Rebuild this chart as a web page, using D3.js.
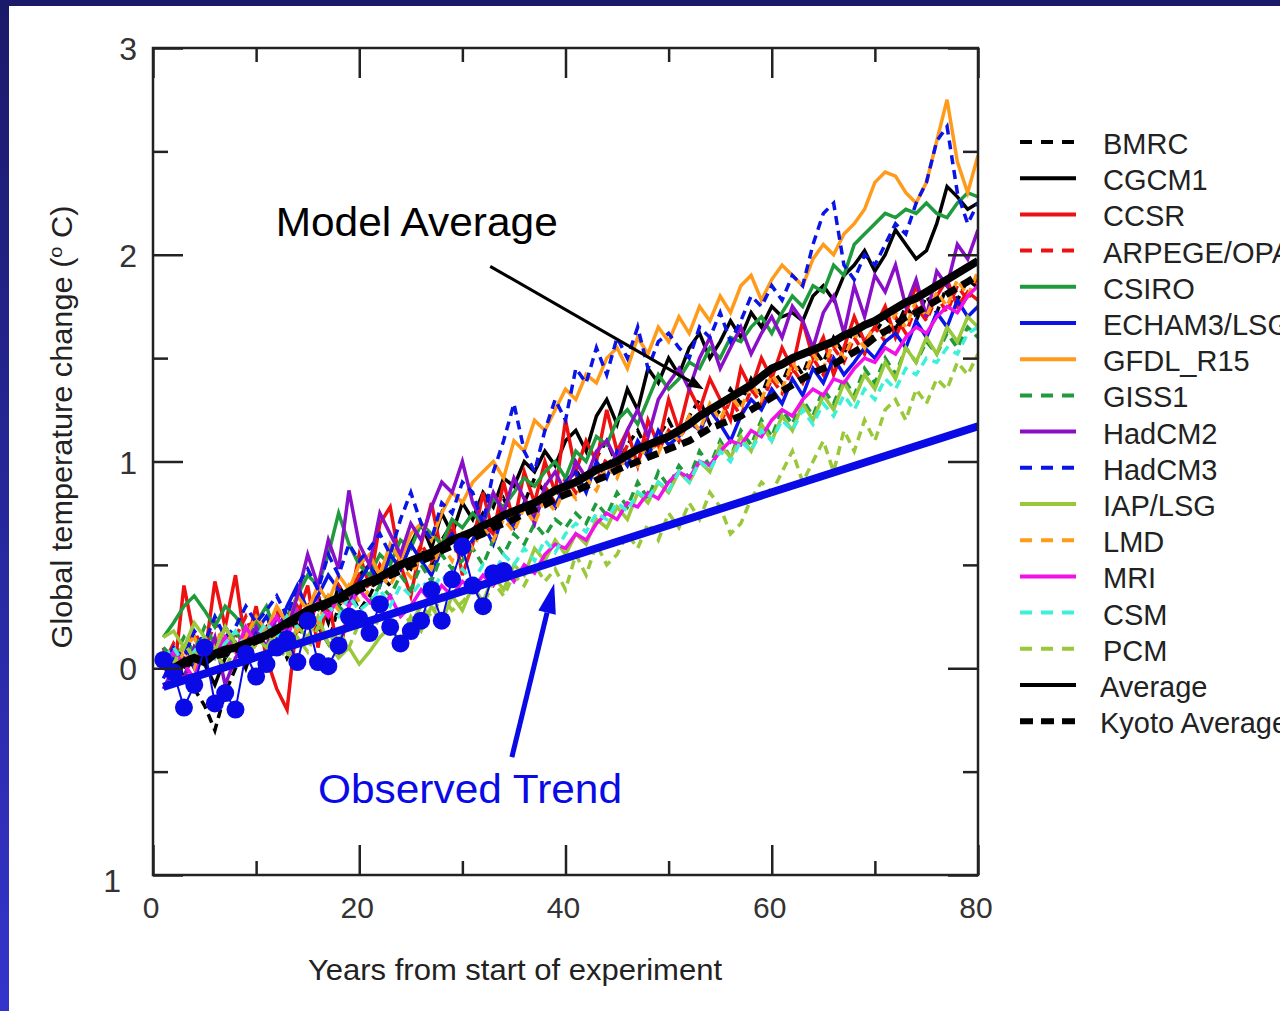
<!DOCTYPE html>
<html><head><meta charset="utf-8">
<script src="https://cdn.jsdelivr.net/npm/d3@7"></script>
<style>
html,body{margin:0;padding:0;background:#fff;overflow:hidden}
svg{display:block}
text{font-family:"Liberation Sans",Arial,Helvetica,sans-serif}
</style></head><body>
<svg id="chart" width="1280" height="1011"></svg>
<script>
// ---------- DATA ----------
const years = d3.range(1, 81);
const xTickMajor = [0, 20, 40, 60, 80];
const xTickMinor = [10, 30, 50, 70];
const yTickMajor = [-1, 0, 1, 2, 3];
const yTickMinor = [-0.5, 0.5, 1.5, 2.5];
const yTickLabels = ["1", "0", "1", "2", "3"];

const modelNames = ["BMRC","CGCM1","CCSR","ARPEGE/OPA","CSIRO","ECHAM3/LSG","GFDL_R15","GISS1","HadCM2","HadCM3","IAP/LSG","LMD","MRI","CSM","PCM"];

const BMRC = [0.05,-0.03,0.02,-0.10,-0.18,-0.30,-0.12,0.00,0.08,-0.05, 0.10,0.18,0.05,0.15,0.25,0.20,0.12,0.30,0.38,0.28, 0.35,0.45,0.40,0.52,0.48,0.58,0.50,0.62,0.70,0.60, 0.66,0.75,0.70,0.82,0.72,0.80,0.92,0.85,0.78,0.90, 0.96,0.88,1.02,1.10,0.98,1.08,1.15,1.05,1.12,1.20, 1.10,1.22,1.30,1.18,1.25,1.35,1.28,1.40,1.32,1.45, 1.38,1.50,1.42,1.55,1.48,1.60,1.52,1.65,1.58,1.62, 1.70,1.64,1.75,1.68,1.80,1.72,1.85,1.78,1.88,1.84];
const CGCM1 = [0.00,0.08,-0.05,0.10,0.02,-0.08,0.05,0.12,0.00,0.15, 0.20,0.10,0.25,0.18,0.30,0.35,0.22,0.40,0.32,0.45, 0.50,0.42,0.55,0.48,0.60,0.70,0.58,0.75,0.65,0.80, 0.72,0.85,0.78,0.92,0.88,1.00,0.95,1.05,0.98,1.10, 1.15,1.05,1.22,1.30,1.18,1.35,1.25,1.45,1.38,1.50, 1.42,1.55,1.62,1.50,1.58,1.68,1.60,1.72,1.65,1.75, 1.70,1.72,1.68,1.80,1.85,1.78,1.90,1.95,2.02,1.92, 2.00,2.12,2.05,1.98,2.02,2.15,2.33,2.28,2.22,2.25];
const CCSR = [0.10,-0.05,0.40,0.15,0.05,0.42,0.20,0.45,0.10,0.30, 0.05,-0.10,-0.20,0.25,0.40,0.10,0.35,0.05,0.30,0.55, 0.40,0.70,0.78,0.50,0.35,0.60,0.80,0.55,0.72,0.45, 0.60,0.85,0.65,0.90,0.70,0.95,0.80,1.00,0.85,1.20, 0.95,1.10,1.00,1.25,1.05,1.15,0.98,1.20,1.08,1.30, 1.15,1.35,1.25,1.40,1.30,1.20,1.45,1.35,1.50,1.40, 1.55,1.45,1.68,1.50,1.60,1.42,1.55,1.70,1.58,1.65, 1.75,1.60,1.72,1.85,1.70,1.80,1.88,1.75,1.82,1.78];
const ARPEGE = [0.02,0.12,0.05,0.18,0.08,0.22,0.10,0.15,0.25,0.12, 0.20,0.28,0.15,0.30,0.22,0.35,0.28,0.40,0.32,0.45, 0.38,0.50,0.42,0.55,0.48,0.60,0.52,0.58,0.66,0.55, 0.62,0.70,0.65,0.78,0.72,0.82,0.75,0.88,0.80,0.92, 0.85,0.95,0.90,1.02,0.96,1.08,1.00,1.12,1.05,1.15, 1.10,1.20,1.14,1.25,1.18,1.30,1.22,1.35,1.28,1.40, 1.33,1.45,1.38,1.50,1.42,1.55,1.48,1.60,1.52,1.65, 1.58,1.70,1.62,1.75,1.68,1.80,1.72,1.85,1.78,1.90];
const CSIRO = [0.15,0.22,0.30,0.35,0.28,0.20,0.30,0.25,0.18,0.22, 0.30,0.15,0.25,0.35,0.45,0.40,0.55,0.75,0.60,0.50, 0.45,0.55,0.50,0.62,0.58,0.70,0.65,0.60,0.72,0.68, 0.75,0.70,0.82,0.78,0.85,0.92,0.88,0.95,1.00,0.92, 1.05,1.00,1.12,1.08,1.20,1.25,1.18,1.30,1.42,1.35, 1.40,1.48,1.45,1.55,1.50,1.60,1.58,1.65,1.70,1.62, 1.72,1.80,1.75,1.85,1.82,1.95,1.90,2.05,2.10,2.15, 2.20,2.18,2.22,2.20,2.25,2.20,2.18,2.25,2.30,2.28];
const ECHAM3 = [-0.05,0.05,0.10,0.00,0.15,0.08,0.20,0.12,0.05,0.18, 0.25,0.15,0.30,0.40,0.28,0.35,0.45,0.38,0.30,0.42, 0.50,0.40,0.55,0.48,0.60,0.52,0.45,0.58,0.65,0.55, 0.62,0.70,0.60,0.75,0.68,0.80,0.72,0.85,0.78,0.90, 0.95,0.85,1.00,0.92,1.05,0.98,1.10,1.02,1.15,1.08, 1.12,1.20,1.15,1.25,1.18,1.10,1.22,1.30,1.25,1.35, 1.28,1.40,1.32,1.45,1.38,1.50,1.42,1.48,1.55,1.50, 1.58,1.62,1.55,1.68,1.60,1.72,1.65,1.78,1.70,1.75];
const GFDL = [0.05,0.00,0.10,0.15,0.05,0.12,0.20,0.08,0.15,0.25, 0.18,0.30,0.22,0.35,0.28,0.40,0.32,0.45,0.38,0.50, 0.55,0.45,0.60,0.52,0.65,0.70,0.62,0.75,0.85,0.80, 0.90,0.95,1.00,0.92,1.10,1.05,1.20,1.15,1.25,1.35, 1.30,1.42,1.38,1.50,1.55,1.45,1.60,1.52,1.65,1.58, 1.70,1.62,1.75,1.68,1.80,1.72,1.85,1.90,1.78,1.88, 1.95,1.90,1.85,1.98,2.05,2.00,2.10,2.15,2.22,2.35, 2.40,2.38,2.30,2.25,2.35,2.55,2.75,2.45,2.30,2.48];
const GISS1 = [0.10,0.05,0.15,0.08,0.20,0.12,0.05,0.18,0.10,0.22, 0.15,0.25,0.18,0.30,0.22,0.28,0.35,0.30,0.25,0.38, 0.32,0.40,0.35,0.45,0.38,0.50,0.42,0.55,0.48,0.52, 0.58,0.50,0.62,0.55,0.65,0.60,0.70,0.64,0.72,0.68, 0.75,0.70,0.80,0.74,0.85,0.78,0.90,0.82,0.95,0.88, 0.98,0.92,1.05,0.98,1.10,1.02,1.15,1.08,1.20,1.12, 1.25,1.18,1.30,1.22,1.35,1.28,1.40,1.32,1.45,1.38, 1.50,1.42,1.55,1.48,1.58,1.52,1.62,1.55,1.65,1.60];
const HadCM2 = [-0.10,0.00,-0.05,0.10,0.02,0.15,-0.08,0.05,0.12,0.20, 0.10,0.25,0.18,0.35,0.55,0.40,0.62,0.48,0.86,0.60, 0.50,0.75,0.65,0.55,0.70,0.62,0.78,0.90,0.85,1.00, 0.80,0.70,0.85,0.75,0.92,0.82,0.70,0.88,0.95,0.85, 1.00,0.92,1.05,1.10,1.00,1.15,1.25,1.12,1.30,1.38, 1.45,1.35,1.50,1.60,1.45,1.55,1.65,1.52,1.62,1.70, 1.60,1.75,1.68,1.55,1.72,1.80,1.62,1.85,1.70,1.90, 1.82,1.95,1.75,1.88,1.70,1.92,1.85,2.05,1.98,2.12];
const HadCM3 = [0.00,0.10,0.05,0.18,0.12,0.25,0.15,0.20,0.30,0.22, 0.28,0.35,0.25,0.40,0.48,0.38,0.55,0.45,0.60,0.52, 0.58,0.65,0.55,0.72,0.85,0.70,0.62,0.80,0.75,0.90, 0.85,0.70,0.95,1.10,1.28,1.05,0.95,1.15,1.30,1.20, 1.45,1.38,1.55,1.42,1.60,1.50,1.65,1.45,1.58,1.62, 1.55,1.50,1.65,1.60,1.72,1.58,1.68,1.80,1.75,1.85, 1.78,1.90,1.85,2.05,2.20,2.25,1.95,1.88,2.00,1.95, 2.05,2.15,2.10,2.25,2.35,2.55,2.62,2.30,2.15,2.25];
const IAPLSG = [0.15,0.18,0.10,0.22,0.15,0.08,0.20,0.12,0.05,0.15, 0.10,0.18,0.08,0.20,0.15,0.25,0.12,0.05,0.10,0.02, 0.08,0.15,0.20,0.12,0.25,0.18,0.30,0.22,0.35,0.28, 0.40,0.32,0.45,0.38,0.50,0.45,0.58,0.52,0.62,0.55, 0.65,0.60,0.72,0.68,0.78,0.72,0.85,0.80,0.90,0.85, 0.95,0.90,1.00,0.95,1.08,1.02,1.12,1.05,1.18,1.10, 1.22,1.15,1.28,1.20,1.32,1.25,1.38,1.30,1.42,1.35, 1.48,1.40,1.55,1.48,1.60,1.52,1.65,1.58,1.70,1.65];
const LMD = [0.05,-0.02,0.08,0.00,0.12,0.05,0.15,0.08,0.02,0.12, 0.20,0.15,0.25,0.18,0.30,0.22,0.35,0.28,0.40,0.32, 0.38,0.45,0.40,0.50,0.44,0.55,0.48,0.60,0.52,0.65, 0.58,0.68,0.62,0.72,0.66,0.78,0.70,0.82,0.76,0.88, 0.82,0.92,0.86,0.98,0.92,1.05,0.98,1.10,1.04,1.15, 1.10,1.22,1.15,1.28,1.20,1.32,1.25,1.38,1.30,1.42, 1.35,1.48,1.40,1.52,1.45,1.58,1.50,1.62,1.55,1.68, 1.60,1.72,1.65,1.78,1.70,1.82,1.75,1.88,1.80,1.92];
const MRI = [0.00,0.08,0.02,-0.05,0.10,0.05,0.15,0.08,0.20,0.12, 0.18,0.25,0.15,0.28,0.20,0.32,0.25,0.35,0.30,0.38, 0.32,0.28,0.35,0.25,0.30,0.38,0.32,0.40,0.35,0.42, 0.38,0.45,0.40,0.48,0.42,0.50,0.46,0.55,0.60,0.58, 0.65,0.62,0.70,0.75,0.72,0.80,0.78,0.85,0.82,0.90, 0.95,0.92,1.00,0.98,1.05,1.10,1.08,1.15,1.12,1.20, 1.25,1.22,1.30,1.35,1.32,1.40,1.38,1.45,1.50,1.48, 1.55,1.52,1.60,1.65,1.62,1.70,1.75,1.72,1.80,1.85];
const CSM = [0.05,0.10,0.02,0.08,0.15,0.05,0.12,0.18,0.10,0.15, 0.22,0.15,0.25,0.20,0.28,0.22,0.30,0.25,0.35,0.28, 0.32,0.38,0.30,0.40,0.35,0.42,0.38,0.45,0.40,0.48, 0.42,0.50,0.45,0.55,0.50,0.58,0.52,0.62,0.56,0.65, 0.70,0.66,0.75,0.72,0.80,0.76,0.85,0.82,0.90,0.86, 0.95,0.90,1.00,0.96,1.05,1.00,1.10,1.05,1.15,1.10, 1.20,1.15,1.25,1.18,1.28,1.22,1.32,1.25,1.35,1.30, 1.40,1.35,1.45,1.42,1.50,1.48,1.55,1.52,1.62,1.65];
const PCM = [0.08,0.02,0.12,0.05,0.15,0.08,0.00,0.10,0.05,0.12, 0.18,0.10,0.05,0.15,0.08,0.20,0.12,0.18,0.10,0.22, 0.15,0.25,0.18,0.28,0.22,0.30,0.25,0.35,0.28,0.32, 0.38,0.30,0.42,0.35,0.45,0.40,0.50,0.42,0.48,0.38, 0.55,0.45,0.60,0.50,0.55,0.65,0.58,0.70,0.62,0.75, 0.68,0.80,0.72,0.85,0.78,0.65,0.70,0.82,0.90,0.85, 0.95,1.05,0.90,1.00,1.10,0.95,1.15,1.05,1.20,1.10, 1.25,1.30,1.20,1.35,1.28,1.40,1.35,1.48,1.42,1.52];

const AVERAGE = [0.02,0.00,0.03,0.05,0.03,0.07,0.09,0.10,0.12,0.14, 0.16,0.19,0.22,0.25,0.28,0.30,0.32,0.34,0.37,0.40, 0.42,0.44,0.47,0.50,0.52,0.54,0.56,0.59,0.62,0.64, 0.66,0.69,0.71,0.74,0.76,0.78,0.80,0.83,0.86,0.88, 0.90,0.93,0.96,0.98,1.00,1.03,1.06,1.08,1.10,1.12, 1.15,1.18,1.22,1.25,1.28,1.31,1.34,1.37,1.41,1.45, 1.47,1.50,1.52,1.54,1.56,1.58,1.61,1.63,1.66,1.68, 1.71,1.74,1.77,1.79,1.82,1.85,1.88,1.91,1.94,1.97];
const KYOTO_AVERAGE = [0.01,-0.01,0.02,0.03,0.05,0.06,0.07,0.09,0.11,0.13, 0.15,0.18,0.21,0.23,0.26,0.28,0.31,0.33,0.35,0.38, 0.40,0.43,0.45,0.47,0.50,0.52,0.54,0.57,0.59,0.61, 0.63,0.65,0.68,0.70,0.72,0.75,0.77,0.79,0.82,0.84, 0.86,0.88,0.91,0.93,0.96,0.98,1.00,1.02,1.04,1.06, 1.08,1.10,1.13,1.16,1.18,1.20,1.22,1.25,1.28,1.31, 1.34,1.37,1.40,1.43,1.45,1.47,1.50,1.53,1.56,1.60, 1.63,1.66,1.70,1.72,1.75,1.78,1.81,1.84,1.87,1.90];

const obsYears = d3.range(1, 35);
const OBSERVED = [0.04,-0.02,-0.19,-0.08,0.10,-0.17,-0.12,-0.20,0.07,-0.04, 0.02,0.10,0.14,0.03,0.23,0.03,0.01,0.11,0.25,0.24, 0.17,0.31,0.20,0.12,0.18,0.23,0.38,0.23,0.43,0.59, 0.40,0.30,0.46,0.47];
const trendYears = [1, 80];
const TREND = [-0.09, 1.17];

const modelValues = [BMRC,CGCM1,CCSR,ARPEGE,CSIRO,ECHAM3,GFDL,GISS1,HadCM2,HadCM3,IAPLSG,LMD,MRI,CSM,PCM];

// ---------- STYLES ----------
const styleFor = {
  "BMRC":["#000000",true], "CGCM1":["#000000",false], "CCSR":["#ee1111",false],
  "ARPEGE/OPA":["#ee1111",true], "CSIRO":["#1f9a3c",false], "ECHAM3/LSG":["#0a14e6",false],
  "GFDL_R15":["#ff9a1a",false], "GISS1":["#1f9a3c",true], "HadCM2":["#8a10c8",false],
  "HadCM3":["#0a14e6",true], "IAP/LSG":["#99c83a",false], "LMD":["#ff9a1a",true],
  "MRI":["#f010e8",false], "CSM":["#3ef0d8",true], "PCM":["#99c83a",true]
};

const svg = d3.select("#chart");
const defs = svg.append("defs");
const grad = defs.append("linearGradient").attr("id","lg").attr("x1",0).attr("y1",0).attr("x2",0).attr("y2",1);
grad.append("stop").attr("offset","0%").attr("stop-color","#1a1a6a");
grad.append("stop").attr("offset","100%").attr("stop-color","#3434cc");
svg.append("rect").attr("x",0).attr("y",0).attr("width",1280).attr("height",1011).attr("fill","#fff");
svg.append("rect").attr("x",0).attr("y",0).attr("width",9).attr("height",1011).attr("fill","url(#lg)");
svg.append("rect").attr("x",0).attr("y",0).attr("width",1280).attr("height",6).attr("fill","#1a1a6a");

const x = d3.scaleLinear().domain([0,80]).range([153,978]);
const y = d3.scaleLinear().domain([-1,3]).range([875,48]);

defs.append("clipPath").attr("id","plotclip").append("rect")
  .attr("x",153).attr("y",48).attr("width",825).attr("height",827);

const plot = svg.append("g").attr("clip-path","url(#plotclip)");
const line = d3.line().x(d=>x(d[0])).y(d=>y(d[1]));

modelNames.forEach((name,k)=>{
  const [col,dash] = styleFor[name];
  const pts = years.map((yr,i)=>[yr, modelValues[k][i]]);
  plot.append("path").attr("d", line(pts)).attr("fill","none")
    .attr("stroke", col).attr("stroke-width", 3.5)
    .attr("stroke-dasharray", dash ? "9,6" : null)
    .attr("stroke-linejoin","miter");
});

plot.append("path").attr("d", line(years.map((yr,i)=>[yr,KYOTO_AVERAGE[i]])))
  .attr("fill","none").attr("stroke","#000").attr("stroke-width",7).attr("stroke-dasharray","12,7");
plot.append("path").attr("d", line(years.map((yr,i)=>[yr,AVERAGE[i]])))
  .attr("fill","none").attr("stroke","#000").attr("stroke-width",8);

plot.append("path").attr("d", line(trendYears.map((yr,i)=>[yr,TREND[i]])))
  .attr("fill","none").attr("stroke","#0a0ae6").attr("stroke-width",8);
plot.append("path").attr("d", line(obsYears.map((yr,i)=>[yr,OBSERVED[i]])))
  .attr("fill","none").attr("stroke","#0a0ae6").attr("stroke-width",2);
plot.selectAll("circle.obs").data(obsYears.map((yr,i)=>[yr,OBSERVED[i]])).enter()
  .append("circle").attr("class","obs").attr("cx",d=>x(d[0])).attr("cy",d=>y(d[1]))
  .attr("r",9).attr("fill","#0a0ae6");

// ---------- AXES ----------
const axisCol = "#222";
function tickAxis(axisFn, scale, vals, size, transform){
  const g = svg.append("g").attr("transform", transform)
    .call(axisFn(scale).tickValues(vals).tickSize(size).tickFormat(""));
  g.select(".domain").remove();
  g.selectAll(".tick line").attr("stroke",axisCol).attr("stroke-width",2.5);
}
tickAxis(d3.axisLeft, y, yTickMajor, -30, "translate(153,0)");
tickAxis(d3.axisLeft, y, yTickMinor, -15, "translate(153,0)");
tickAxis(d3.axisRight, y, yTickMajor, -30, "translate(978,0)");
tickAxis(d3.axisRight, y, yTickMinor, -15, "translate(978,0)");
tickAxis(d3.axisBottom, x, xTickMajor, -30, "translate(0,875)");
tickAxis(d3.axisBottom, x, xTickMinor, -14, "translate(0,875)");
tickAxis(d3.axisTop, x, xTickMajor, -30, "translate(0,48)");
tickAxis(d3.axisTop, x, xTickMinor, -14, "translate(0,48)");

svg.append("rect").attr("x",153).attr("y",48).attr("width",825).attr("height",827)
  .attr("fill","none").attr("stroke",axisCol).attr("stroke-width",2.5);

svg.selectAll("text.ylab").data(yTickMajor).enter().append("text")
  .attr("class","ylab")
  .attr("x", d => d < 0 ? 121 : 137)
  .attr("y", d => y(d) + 12 + (d < 0 ? 5 : 0))
  .attr("text-anchor","end").attr("font-size",32).attr("fill","#333")
  .text((d,i)=>yTickLabels[i]);
svg.selectAll("text.xlab").data(xTickMajor).enter().append("text")
  .attr("class","xlab")
  .attr("x", d => x(d) - 2).attr("y", 918)
  .attr("text-anchor","middle").attr("font-size",30).attr("fill","#333")
  .text(d=>d);

svg.append("text").attr("x",515).attr("y",980).attr("text-anchor","middle")
  .attr("font-size",30).attr("fill","#222")
  .attr("textLength",414).attr("lengthAdjust","spacingAndGlyphs")
  .text("Years from start of experiment");
const yt = svg.append("text").attr("transform","translate(72,427) rotate(-90)")
  .attr("text-anchor","middle").attr("font-size",29).attr("fill","#222")
  .attr("textLength",443).attr("lengthAdjust","spacingAndGlyphs");
yt.append("tspan").text("Global temperature change (");
yt.append("tspan").attr("font-size",19).attr("dy",-10).text("o");
yt.append("tspan").attr("dy",10).text(" C)");

// ---------- ANNOTATIONS ----------
svg.append("text").attr("x",x(11.9)).attr("y",y(2.09)).attr("font-size",41).attr("fill","#000")
  .attr("textLength",282).attr("lengthAdjust","spacingAndGlyphs").text("Model Average");
svg.append("text").attr("x",x(16.0)).attr("y",y(-0.65)).attr("font-size",41).attr("fill","#0a0ae6")
  .attr("textLength",304).attr("lengthAdjust","spacingAndGlyphs").text("Observed Trend");

function arrow(x1,y1,x2,y2,color,w,headL,headW){
  const X1=x(x1),Y1=y(y1),X2=x(x2),Y2=y(y2);
  const ang=Math.atan2(Y2-Y1,X2-X1);
  const bx=X2-headL*Math.cos(ang), by=Y2-headL*Math.sin(ang);
  svg.append("line").attr("x1",X1).attr("y1",Y1).attr("x2",bx).attr("y2",by)
    .attr("stroke",color).attr("stroke-width",w);
  const px=-Math.sin(ang)*headW/2, py=Math.cos(ang)*headW/2;
  svg.append("path").attr("d",`M${X2},${Y2}L${bx+px},${by+py}L${bx-px},${by-py}Z`).attr("fill",color);
}
arrow(32.7,1.944,53.4,1.35,"#000",3,16,12);
arrow(34.8,-0.43,38.9,0.41,"#0a0ae6",5,30,18);

// ---------- LEGEND ----------
const legendNames = modelNames.concat(["Average","Kyoto Average"]);
const legend = svg.append("g");
legendNames.forEach((name,i)=>{
  const cy = 142 + i*36.2;
  let col="#000", dash=false, w=4;
  if (styleFor[name]) { [col,dash] = styleFor[name]; }
  if (name==="Kyoto Average") { dash=true; w=6; }
  legend.append("line").attr("x1",1020).attr("x2",1076).attr("y1",cy).attr("y2",cy)
    .attr("stroke",col).attr("stroke-width",w)
    .attr("stroke-dasharray", dash ? (name==="Kyoto Average" ? "13,8" : "12,9") : null);
  legend.append("text").attr("x", i>=15 ? 1100 : 1103).attr("y", cy+12)
    .attr("font-size",29).attr("fill","#222").text(name);
});
</script>
</body></html>
